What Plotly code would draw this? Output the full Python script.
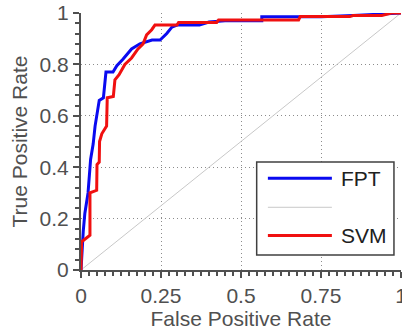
import plotly.graph_objects as go

# FPT ROC curve
fpt_fpr = [0, 0.002, 0.007, 0.012, 0.022, 0.030, 0.038, 0.044, 0.057, 0.070, 0.078, 0.100,
           0.112, 0.131, 0.158, 0.184, 0.222, 0.247, 0.268, 0.284, 0.30, 0.37, 0.40, 0.45,
           0.565, 0.565, 0.75, 0.85, 0.97, 1.0]
fpt_tpr = [0, 0.05, 0.15, 0.22, 0.30, 0.43, 0.49, 0.56, 0.66, 0.67, 0.77, 0.77,
           0.795, 0.82, 0.86, 0.88, 0.895, 0.895, 0.92, 0.945, 0.953, 0.953, 0.965, 0.97,
           0.97, 0.985, 0.985, 0.99, 1.0, 1.0]

# SVM ROC curve
svm_fpr = [0, 0.002, 0.028, 0.028, 0.049, 0.050, 0.057, 0.058, 0.065, 0.080, 0.082, 0.101,
           0.106, 0.119, 0.137, 0.158, 0.178, 0.194, 0.205, 0.221, 0.231, 0.30, 0.305, 0.424,
           0.43, 0.68, 0.685, 0.84, 0.85, 0.94, 0.97, 1.0]
svm_tpr = [0, 0.11, 0.135, 0.30, 0.31, 0.41, 0.42, 0.50, 0.53, 0.56, 0.67, 0.675,
           0.74, 0.76, 0.80, 0.825, 0.86, 0.88, 0.915, 0.935, 0.953, 0.953, 0.963, 0.963,
           0.973, 0.973, 0.986, 0.986, 0.99, 0.99, 1.0, 1.0]

diag = [0, 1]

x_ticks = [0, 0.25, 0.5, 0.75, 1]
x_ticklabels = ["0", "0.25", "0.5", "0.75", "1"]
y_ticks = [0, 0.2, 0.4, 0.6, 0.8, 1]
y_ticklabels = ["0", "0.2", "0.4", "0.6", "0.8", "1"]

legend_names = ["FPT", "", "SVM"]
BLUE = "#0a0af0"
RED = "#f01010"
GRAY = "#c8c8c8"
TXT = "#505050"
FONT = "Liberation Sans, Arial, sans-serif"

fig = go.Figure()
fig.add_trace(go.Scatter(x=diag, y=diag, mode="lines", line=dict(color=GRAY, width=1),
                         showlegend=False, hoverinfo="skip"))
fig.add_trace(go.Scatter(x=fpt_fpr, y=fpt_tpr, mode="lines", name="FPT",
                         line=dict(color=BLUE, width=3), showlegend=False))
fig.add_trace(go.Scatter(x=svm_fpr, y=svm_tpr, mode="lines", name="SVM",
                         line=dict(color=RED, width=3), showlegend=False))

axis_common = dict(
    showgrid=True, gridcolor="#8c8c8c", griddash="1px,3px", gridwidth=1,
    zeroline=False, showline=True, linecolor="#505050", linewidth=2,
    ticks="outside", ticklen=6, tickcolor="#505050", tickwidth=2,
    tickfont=dict(family=FONT, size=21, color=TXT),
    title_font=dict(family=FONT, size=21, color=TXT),
    range=[0, 1], automargin=False, ticklabeloverflow="allow",
)

fig.update_layout(
    width=402, height=336,
    margin=dict(l=81, r=1, t=13, b=66),
    plot_bgcolor="white", paper_bgcolor="white",
    xaxis=dict(axis_common, tickvals=x_ticks, ticktext=x_ticklabels,
               title=dict(text="False Positive Rate", standoff=3),
               minor=dict(dtick=0.025, tick0=0, ticks="outside", ticklen=4,
                          tickcolor="#505050", tickwidth=1.5, showgrid=False)),
    yaxis=dict(axis_common, tickvals=y_ticks, ticktext=y_ticklabels,
               title=dict(text="True Positive Rate", standoff=6),
               minor=dict(dtick=0.04, tick0=0, ticks="outside", ticklen=4,
                          tickcolor="#505050", tickwidth=1.5, showgrid=False)),
    showlegend=False,
)

# manual legend box (paper coordinates)
x0, x1 = 0.549, 0.978
y0, y1 = 0.058, 0.42
fig.add_shape(type="rect", xref="paper", yref="paper", x0=x0, x1=x1, y0=y0, y1=y1,
              line=dict(color="#404040", width=1.5), fillcolor="white", layer="above")
legend_colors = [BLUE, GRAY, RED]
legend_widths = [3, 1, 3]
legend_ys = [0.357, 0.244, 0.134]
for name, col, w, yy in zip(legend_names, legend_colors, legend_widths, legend_ys):
    fig.add_shape(type="line", xref="paper", yref="paper", x0=0.584, x1=0.784, y0=yy, y1=yy,
                  line=dict(color=col, width=w), layer="above")
    if name:
        fig.add_annotation(xref="paper", yref="paper", x=0.805, y=yy, text=name,
                           showarrow=False, xanchor="left", yanchor="middle",
                           font=dict(family=FONT, size=21, color="#202020"))

fig.write_html("out.html", config={"displayModeBar": False},
               post_script="document.body.style.margin='0';")
